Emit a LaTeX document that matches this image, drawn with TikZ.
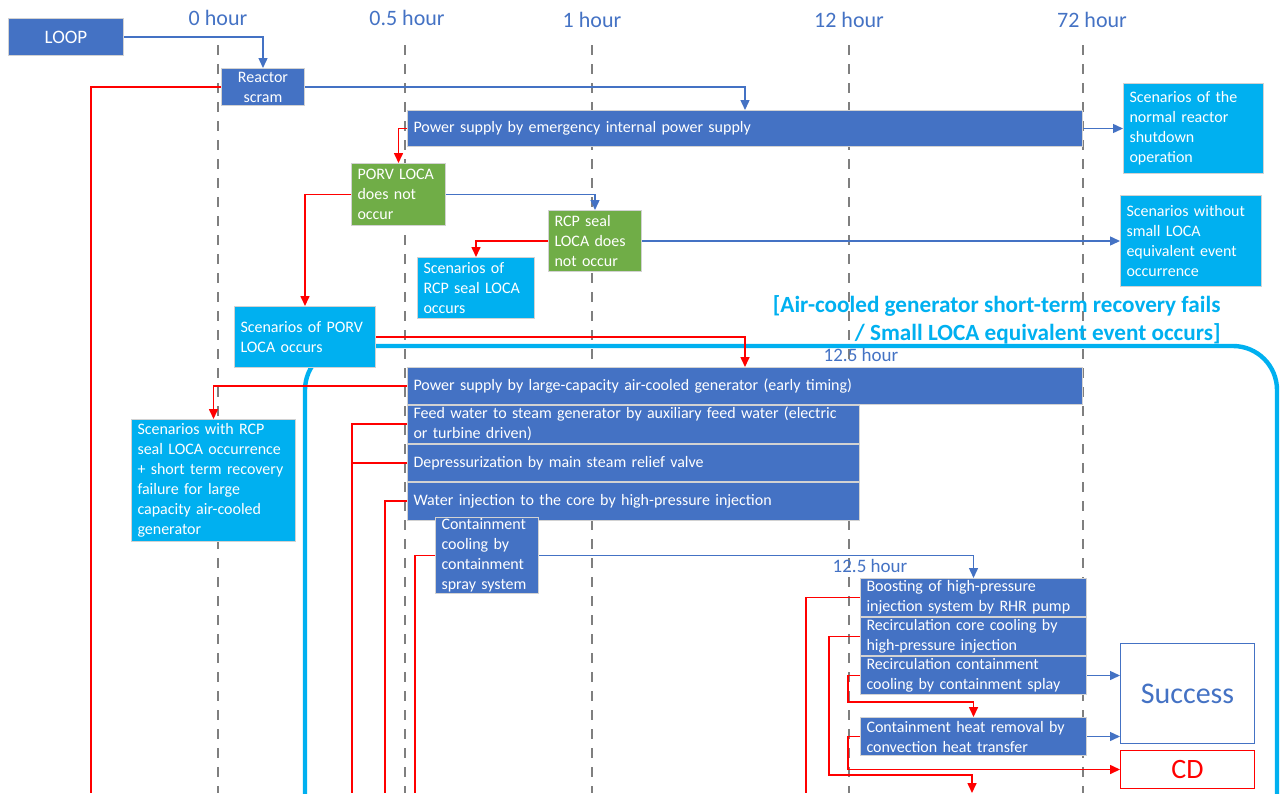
\documentclass[tikz,border=0pt]{standalone}
\usepackage{fontspec}
\setmainfont{Carlito}
\usepackage{tikz}
\usetikzlibrary{arrows.meta, positioning, backgrounds}

\definecolor{evblue}{HTML}{4472C4}
\definecolor{sccyan}{HTML}{00B0F0}
\definecolor{okgreen}{HTML}{70AD47}
\definecolor{cdred}{HTML}{FF0000}
\definecolor{gridgray}{HTML}{7F7F7F}

\tikzstyle{boxbase}  = [rectangle, draw=gray!35, line width=0.5pt, text=white,
                        inner xsep=3pt, inner ysep=0.5pt, align=left, anchor=north west,
                        font=\fontsize{8}{10}\selectfont,
                        execute at begin node={\hyphenpenalty=10000\exhyphenpenalty=10000}]
\tikzstyle{event}    = [boxbase, fill=evblue]
\tikzstyle{okevent}  = [boxbase, fill=okgreen]
\tikzstyle{scenario} = [boxbase, fill=sccyan]
\tikzstyle{hour}     = [text=evblue, inner sep=0pt, font=\fontsize{11}{13}\selectfont]
\tikzstyle{barrow}   = [draw=evblue, line width=0.7pt, -{Triangle[length=5pt,width=4.5pt]}]
\tikzstyle{rarrow}   = [draw=cdred, line width=0.8pt, -{Triangle[length=5pt,width=4.5pt]}]
\tikzstyle{rline}    = [draw=cdred, line width=0.8pt]
\tikzset{wh/.style 2 args={minimum width=#1, minimum height=#2, text width=#1-6pt}}

\begin{document}
\begin{tikzpicture}[x=0.5pt, y=-0.5pt]
  \useasboundingbox (0,0) rectangle (1280,793);

  % --- time axis ---
  \node (h0)  [hour] at (218,18) {0 hour};
  \node (h05) [hour] at (407,18) {0.5 hour};
  \node (h1)  [hour] at (592,20) {1 hour};
  \node (h12) [hour] at (849,20) {12 hour};
  \node (h72) [hour] at (1092,20) {72 hour};

  \begin{scope}[on background layer]
    \foreach \x in {218,405,592,849,1083}
      \draw[gridgray, line width=0.7pt, dash pattern=on 5pt off 4.5pt] (\x,45) -- (\x,793);
    \draw[sccyan, line width=2.2pt, rounded corners=22pt] (305,800) |- (1277,346) -- (1277,800);
  \end{scope}

  \node (cond) [anchor=north east, align=right, inner sep=0pt, text=sccyan,
                font=\bfseries\fontsize{11.6}{14}\selectfont] at (1221,295)
                {[Air-cooled generator short-term recovery fails\\/ Small LOCA equivalent event occurs]};
  \node (t_a) [hour, font=\fontsize{9.5}{11}\selectfont] at (861,355) {12.5 hour};
  \node (t_b) [hour, font=\fontsize{9.5}{11}\selectfont] at (870,566) {12.5 hour};

  % --- initiating event and early phase ---
  \node (loop)  [event, wh={57.5pt}{18.5pt}, align=center, font=\fontsize{9.5}{11}\selectfont]
                at (8,18) {LOOP};
  \node (scram) [event, wh={41.5pt}{18.5pt}, align=center] at (221,68) {Reactor\\scram};
  \node (ps_emerg) [event, wh={337.5pt}{18pt}] at (407,110)
                   {Power supply by emergency internal power supply};
  \node (sc_normal) [scenario, wh={70pt}{45pt}] at (1123,83)
                    {Scenarios of the\\normal reactor\\shutdown\\operation};
  \node (porv_no) [okevent, wh={47pt}{31pt}] at (351,163) {PORV LOCA\\does not\\occur};
  \node (rcp_no)  [okevent, wh={46.5pt}{30.5pt}] at (548,210) {RCP seal\\LOCA does\\not occur};
  \node (sc_rcp)  [scenario, wh={58.5pt}{30.5pt}] at (417,257) {Scenarios of\\RCP seal LOCA\\occurs};
  \node (sc_nosmall) [scenario, wh={70.5pt}{45.5pt}] at (1120,195)
                     {Scenarios without\\small LOCA\\equivalent event\\occurrence};
  \node (sc_porv) [scenario, wh={70.5pt}{30.5pt}] at (234,306) {Scenarios of PORV\\LOCA occurs};

  % --- small LOCA equivalent phase ---
  \node (ps_large) [event, wh={337.5pt}{18.5pt}] at (407,367)
                   {Power supply by large-capacity air-cooled generator (early timing)};
  \node (feed)    [event, wh={226pt}{18.75pt}, below=0pt of ps_large.south west, anchor=north west]
                  {Feed water to steam generator by auxiliary feed water (electric\\or turbine driven)};
  \node (depress) [event, wh={226pt}{18.75pt}, below=0pt of feed.south west, anchor=north west]
                  {Depressurization by main steam relief valve};
  \node (inj)     [event, wh={226pt}{18.75pt}, below=0pt of depress.south west, anchor=north west]
                  {Water injection to the core by high-pressure injection};
  \node (spray)   [event, wh={51.5pt}{38pt}, inner ysep=0pt] at (435,517)
                  {Containment\\cooling by\\containment\\spray system};
  \node (sc_rcp_st) [scenario, wh={82pt}{61pt}] at (131,419)
                    {Scenarios with RCP\\seal LOCA occurrence\\+ short term recovery\\failure for large\\capacity air-cooled\\generator};

  % --- long term phase ---
  \node (boost)   [event, wh={113pt}{19pt}] at (860,578)
                  {Boosting of high-pressure\\injection system by RHR pump};
  \node (rc_core) [event, wh={113pt}{19pt}, below=0pt of boost.south west, anchor=north west]
                  {Recirculation core cooling by\\high-pressure injection};
  \node (rc_cont) [event, wh={113pt}{19pt}, below=0pt of rc_core.south west, anchor=north west]
                  {Recirculation containment\\cooling by containment splay};
  \node (heat)    [event, wh={113pt}{19pt}] at (860,717)
                  {Containment heat removal by\\convection heat transfer};
  \node (success) [boxbase, draw=evblue, fill=white, text=evblue, wh={67pt}{50pt}, align=center,
                   font=\fontsize{15}{18}\selectfont] at (1120,643) {Success};
  \node (cd)      [boxbase, draw=cdred, fill=white, text=cdred, wh={67pt}{19pt}, align=center,
                   font=\fontsize{14}{16}\selectfont] at (1120,750) {CD};

  % free ends at the lower edge
  \coordinate (end_a) at (91,793);
  \coordinate (end_b) at (352,793);
  \coordinate (end_c) at (385,793);
  \coordinate (end_d) at (415,793);
  \coordinate (end_e) at (806,793);
  \coordinate (bend_f) at (829,775);
  \coordinate (end_f) at (972,793);
  \coordinate (bend_g) at (848,702);
  \coordinate (bend_h) at (848,768);

  % success branches
  \draw[barrow] (loop.east) -| (scram.north);
  \draw[barrow] (scram.east) -| (ps_emerg.north);
  \draw[barrow] (ps_emerg.east) -- (ps_emerg.east -| sc_normal.west);
  \draw[barrow] (porv_no.east) -| (rcp_no.north);
  \draw[barrow] (rcp_no.east) -- (rcp_no.east -| sc_nosmall.west);
  \draw[barrow] (spray.east) -| (boost.north);
  \draw[barrow] (rc_cont.east) -- (rc_cont.east -| success.west);
  \draw[barrow] (heat.east) -- (heat.east -| success.west);

  % failure branches
  \draw[rline]  (scram.west) -| (end_a);
  \draw[rarrow] (ps_emerg.west) -| (porv_no.north);
  \draw[rarrow] (porv_no.west) -| (sc_porv.north);
  \draw[rarrow] (rcp_no.west) -| (sc_rcp.north);
  \draw[rarrow] (sc_porv.east) -| (ps_large.north);
  \draw[rarrow] (ps_large.west) -| (sc_rcp_st.north);
  \draw[rline]  (feed.west) -| (end_b);
  \draw[rline]  (depress.west) -- (depress.west -| end_b);
  \draw[rline]  (inj.west) -| (end_c);
  \draw[rline]  (spray.west) -| (end_d);
  \draw[rline]  (boost.west) -| (end_e);
  \draw[rarrow] (rc_core.west) -| (bend_f) -| (end_f);
  \draw[rarrow] (rc_cont.west) -| (bend_g) -| (heat.north);
  \draw[rarrow] (heat.west) -| (bend_h |- cd.west) -- (cd.west);

\end{tikzpicture}
\end{document}
